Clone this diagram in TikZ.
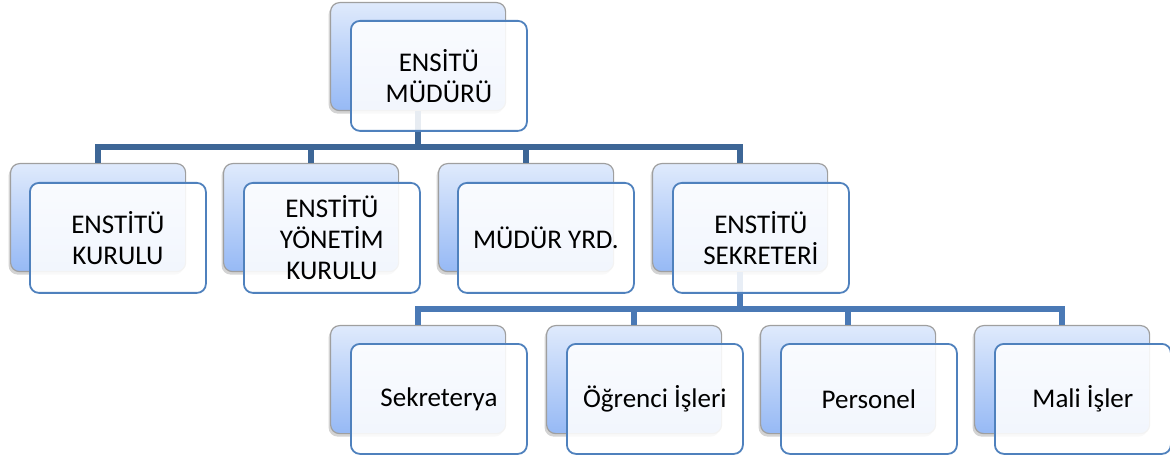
\documentclass[tikz,border=0pt]{standalone}
\usepackage{fontspec}
\setmainfont{Carlito}
\usetikzlibrary{shadows}
\definecolor{backtop}{RGB}{223,234,252}
\definecolor{backbot}{RGB}{150,185,245}
\definecolor{rim}{RGB}{79,129,189}
\definecolor{busdark}{RGB}{61,102,150}
\definecolor{buslight}{RGB}{74,121,181}
\tikzset{back/.style={draw=gray!75,line width=1.2pt,rounded corners=9pt,
top color=backtop,bottom color=backbot,anchor=north west,
minimum width=175pt,minimum height=108pt,
drop shadow={shadow xshift=-2pt,shadow yshift=-3pt,opacity=0.35}},
front/.style={draw=rim,line width=1.8pt,rounded corners=9pt,fill=white,
fill opacity=0.88,text opacity=1,anchor=north west,align=center,
minimum width=176pt,minimum height=110pt,inner sep=0pt,
font=\fontsize{27}{31}\selectfont},
bus/.style={line width=5.5pt,line join=miter,#1}}

\begin{document}
\begin{tikzpicture}[x=1pt,y=-1pt]
	\useasboundingbox (0,0) rectangle (1170,462);
	
	% back cards
	\node[back] (mudur) at (330,2) {};
	\node[back] (kurul) at (10,163) {};
	\node[back] (yonetim) at (223,163) {};
	\node[back] (yrd) at (438,163) {};
	\node[back] (sekreter) at (652,163) {};
	\node[back] (sekreterya) at (330,325) {};
	\node[back] (ogrenci) at (546,325) {};
	\node[back] (personel) at (760,325) {};
	\node[back] (mali) at (974,325) {};
	
	\coordinate (bus1) at (0,147);
	\coordinate (bus2) at (0,309);
	
	% Connectors
	\draw[bus=busdark] (kurul.north) |- (bus1 -| sekreter.north) -- (sekreter.north);
	\draw[bus=busdark] (mudur.south) -- (mudur.south |- bus1);
	\draw[bus=busdark] (yonetim.north) -- (yonetim.north |- bus1);
	\draw[bus=busdark] (yrd.north) -- (yrd.north |- bus1);
	\draw[bus=buslight] (sekreterya.north) |- (bus2 -| mali.north) -- (mali.north);
	\draw[bus=buslight] (sekreter.south) -- (sekreter.south |- bus2);
	\draw[bus=buslight] (ogrenci.north) -- (ogrenci.north |- bus2);
	\draw[bus=buslight] (personel.north) -- (personel.north |- bus2);
	
	% front cards
	\node[front] (mudurF) at ([shift={(20pt,-18pt)}]mudur.north west) {ENSİTÜ\\MÜDÜRÜ};
	\node[front] (kurulF) at ([shift={(19pt,-19pt)}]kurul.north west) {ENSTİTÜ\\KURULU};
	\node[front] (yonetimF) at ([shift={(20pt,-19pt)}]yonetim.north west) {ENSTİTÜ\\YÖNETİM\\KURULU};
	\node[front] (yrdF) at ([shift={(19pt,-19pt)}]yrd.north west) {MÜDÜR YRD.};
	\node[front] (sekreterF) at ([shift={(20pt,-19pt)}]sekreter.north west) {ENSTİTÜ\\SEKRETERİ};
	\node[front] (sekreteryaF) at ([shift={(20pt,-18pt)}]sekreterya.north west) {Sekreterya};
	\node[front] (ogrenciF) at ([shift={(20pt,-18pt)}]ogrenci.north west) {Öğrenci İşleri};
	\node[front] (personelF) at ([shift={(20pt,-18pt)}]personel.north west) {Personel};
	\node[front] (maliF) at ([shift={(20pt,-18pt)}]mali.north west) {Mali İşler};
\end{tikzpicture}
\end{document}
